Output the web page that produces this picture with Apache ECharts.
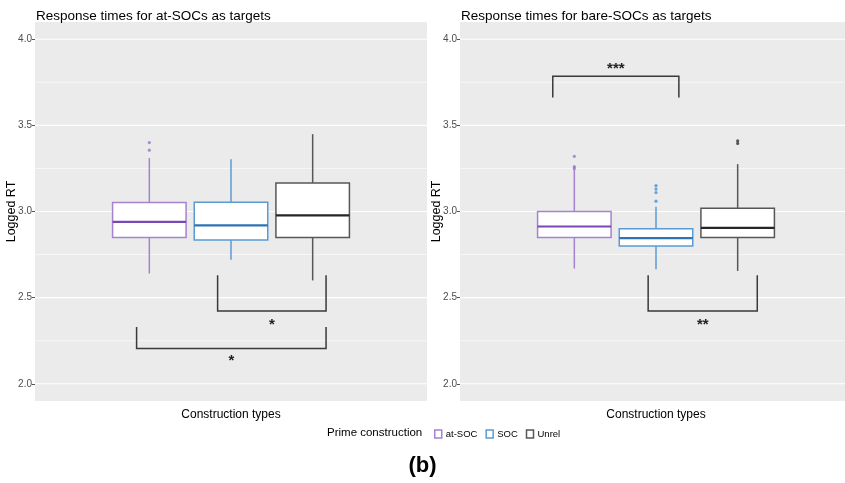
<!DOCTYPE html>
<html>
<head>
<meta charset="utf-8">
<script src="https://cdn.jsdelivr.net/npm/echarts@6/dist/echarts.min.js"></script>
<style>
  html, body { margin: 0; padding: 0; background: #fff; }
  #chart { width: 845px; height: 483px; }
</style>
</head>
<body>
<div id="chart"></div>
<script>
// groups (prime construction) and their x positions inside a panel (ggplot units)
const groups = ['at-SOC', 'SOC', 'Unrel']
const groupX = [0.75, 1.0, 1.25]
const boxWidth = 0.225

// [low whisker, Q1, median, Q3, high whisker]
const atStats = [
  [2.64, 2.849, 2.94, 3.052, 3.31],
  [2.72, 2.834, 2.92, 3.054, 3.304],
  [2.60, 2.849, 2.978, 3.166, 3.449]
]
const bareStats = [
  [2.669, 2.849, 2.913, 3.0, 3.246],
  [2.665, 2.80, 2.846, 2.90, 3.027],
  [2.655, 2.849, 2.905, 3.019, 3.275]
]
// outliers per group
const atOutliers = [[3.356, 3.40], [], []]
const bareOutliers = [[3.25, 3.26, 3.32], [3.06, 3.11, 3.13, 3.15], [3.395, 3.41]]

// significance brackets: [xmin, xmax, leg end, bar, label, label y]
const atBrackets = [
  [0.959, 1.291, 2.63, 2.422, '*', 2.365],
  [0.711, 1.291, 2.33, 2.205, '*', 2.157]
]
const bareBrackets = [
  [0.684, 1.07, 3.662, 3.785, '***', 3.85],
  [0.976, 1.31, 2.63, 2.423, '**', 2.364]
]

const yTicks = [2.0, 2.5, 3.0, 3.5, 4.0]
const yMinor = [2.25, 2.75, 3.25, 3.75]

const borderColors = ['#a583d0', '#5b9bd5', '#575757']
const medianColors = ['#7947b6', '#2e74b5', '#262626']
const pointColors = ['#9a6fcc', '#4a8fd0', '#333333']
const FONT = 'Liberation Sans, Arial, sans-serif'

const chart = echarts.init(document.getElementById('chart'))

const makeAxes = (gi) => ({
  x: {
    type: 'value', gridIndex: gi, min: 0.4, max: 1.6,
    axisLine: { show: false }, axisTick: { show: false }, axisLabel: { show: false },
    splitLine: { show: false },
    name: 'Construction types', nameLocation: 'middle', nameGap: 8, nameMoveOverlap: false,
    nameTextStyle: { fontFamily: FONT, fontSize: 12, color: '#000' }
  },
  y: {
    type: 'value', gridIndex: gi, min: 1.9, max: 4.1,
    axisLine: { show: false },
    splitLine: { show: false },
    axisTick: { show: true, length: 3, customValues: yTicks, lineStyle: { color: '#555' } },
    axisLabel: {
      customValues: yTicks, margin: 3, fontFamily: FONT, fontSize: 10, color: '#4d4d4d',
      formatter: v => v.toFixed(1)
    },
    name: 'Logged RT', nameLocation: 'middle', nameGap: 17, nameMoveOverlap: false,
    nameTextStyle: { fontFamily: FONT, fontSize: 12.5, color: '#000' }
  }
})

const gridLineSeries = (gi, vals, width) => ({
  type: 'custom', xAxisIndex: gi, yAxisIndex: gi, z: 1, silent: true,
  data: vals.map(v => [1, v]),
  renderItem: (params, api) => {
    const p1 = api.coord([0.4, api.value(1)])
    const p2 = api.coord([1.6, api.value(1)])
    return {
      type: 'line',
      shape: { x1: p1[0], y1: p1[1], x2: p2[0], y2: p2[1] },
      style: { stroke: '#ffffff', lineWidth: width }
    }
  }
})

const boxSeries = (gi, stats, k) => ({
  name: groups[k],
  type: 'custom', xAxisIndex: gi, yAxisIndex: gi, z: 3,
  itemStyle: { color: borderColors[k] },
  data: [[groupX[k]].concat(stats[k])],
  encode: { x: 0, y: [1, 2, 3, 4, 5] },
  renderItem: (params, api) => {
    const x = api.value(0)
    const half = api.size([boxWidth, 0])[0] / 2
    const lo = api.coord([x, api.value(1)])
    const q1 = api.coord([x, api.value(2)])
    const md = api.coord([x, api.value(3)])
    const q3 = api.coord([x, api.value(4)])
    const hi = api.coord([x, api.value(5)])
    const c = borderColors[k]
    return {
      type: 'group',
      children: [
        { type: 'line', shape: { x1: lo[0], y1: lo[1], x2: q1[0], y2: q1[1] }, style: { stroke: c, lineWidth: 1.5 } },
        { type: 'line', shape: { x1: q3[0], y1: q3[1], x2: hi[0], y2: hi[1] }, style: { stroke: c, lineWidth: 1.5 } },
        {
          type: 'rect',
          shape: { x: q3[0] - half, y: q3[1], width: half * 2, height: q1[1] - q3[1] },
          style: { fill: '#ffffff', stroke: c, lineWidth: 1.5 }
        },
        { type: 'line', shape: { x1: md[0] - half, y1: md[1], x2: md[0] + half, y2: md[1] }, style: { stroke: medianColors[k], lineWidth: 2.2 } }
      ]
    }
  }
})

const outlierSeries = (gi, outs, k) => ({
  name: groups[k],
  type: 'scatter', xAxisIndex: gi, yAxisIndex: gi, z: 4, silent: true,
  symbolSize: 3.2,
  itemStyle: { color: pointColors[k] },
  data: outs[k].map(v => [groupX[k], v])
})

const bracketSeries = (gi, brackets) => ({
  type: 'custom', xAxisIndex: gi, yAxisIndex: gi, z: 5, silent: true,
  data: brackets.map(b => [b[0], b[1], b[2], b[3], b[5], b[4]]),
  encode: { x: [0, 1], y: [2, 3, 4] },
  renderItem: (params, api) => {
    const b = brackets[params.dataIndex]
    const a1 = api.coord([b[0], b[2]])
    const a2 = api.coord([b[0], b[3]])
    const a3 = api.coord([b[1], b[3]])
    const a4 = api.coord([b[1], b[2]])
    const t = api.coord([(b[0] + b[1]) / 2, b[5]])
    return {
      type: 'group',
      children: [
        {
          type: 'polyline',
          shape: { points: [a1, a2, a3, a4] },
          style: { stroke: '#3a3a3a', lineWidth: 1.5, fill: null }
        },
        {
          type: 'text',
          x: t[0], y: t[1] + 4,
          style: {
            text: b[4], fill: '#222', fontFamily: FONT, fontSize: 15, fontWeight: 'bold',
            align: 'center', verticalAlign: 'middle'
          }
        }
      ]
    }
  }
})

const left = makeAxes(0)
const right = makeAxes(1)

const series = []
;[[0, atStats, atOutliers, atBrackets], [1, bareStats, bareOutliers, bareBrackets]].forEach(([gi, st, outs, br]) => {
  series.push(gridLineSeries(gi, yMinor, 0.6))
  series.push(gridLineSeries(gi, yTicks, 1.2))
  groups.forEach((g, k) => {
    series.push(boxSeries(gi, st, k))
    if (outs[k].length) series.push(outlierSeries(gi, outs, k))
  })
  series.push(bracketSeries(gi, br))
})

const option = {
  backgroundColor: '#ffffff',
  animation: false,
  title: [
    { text: 'Response times for at-SOCs as targets', left: 31, top: 4, textStyle: { fontFamily: FONT, fontSize: 13.5, fontWeight: 'normal', color: '#000' } },
    { text: 'Response times for bare-SOCs as targets', left: 456, top: 4, textStyle: { fontFamily: FONT, fontSize: 13.5, fontWeight: 'normal', color: '#000' } },
    { text: 'Prime construction', left: 322, top: 422, textStyle: { fontFamily: FONT, fontSize: 11.5, fontWeight: 'normal', color: '#000' } },
    { text: '(b)', left: 'center', top: 450, textStyle: { fontFamily: FONT, fontSize: 22, fontWeight: 'bold', color: '#000' } }
  ],
  legend: {
    left: 429, top: 424,
    itemWidth: 7, itemHeight: 8, itemGap: 8,
    textStyle: { fontFamily: FONT, fontSize: 9.5, color: '#000', padding: [0, 0, 0, -1] },
    data: groups.map((g, k) => ({
      name: g, icon: 'rect',
      itemStyle: { color: '#ffffff', borderColor: borderColors[k], borderWidth: 1.5 }
    }))
  },
  grid: [
    { left: 35, top: 22, width: 392, height: 379, show: true, backgroundColor: '#ebebeb', borderWidth: 0, outerBoundsMode: 'none' },
    { left: 460, top: 22, width: 392, height: 379, show: true, backgroundColor: '#ebebeb', borderWidth: 0, outerBoundsMode: 'none' }
  ],
  xAxis: [left.x, right.x],
  yAxis: [left.y, right.y],
  series: series
}

chart.setOption(option)
</script>
</body>
</html>
